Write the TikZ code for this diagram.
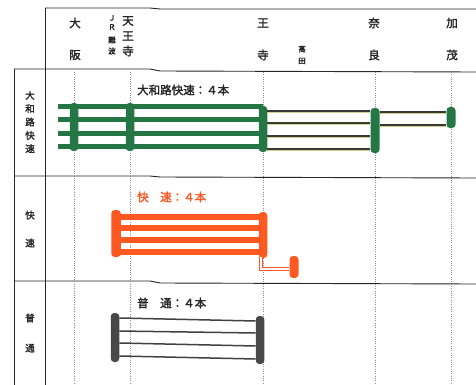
\documentclass[tikz,border=0pt]{standalone}
\usepackage{fontspec}
\newfontfamily\jp[AutoFakeBold=2]{Noto Sans CJK JP}
\usetikzlibrary{calc}
\definecolor{jrgreen}{RGB}{36,118,68}
\definecolor{jrorange}{RGB}{255,88,32}
\definecolor{jrgray}{RGB}{72,72,72}
\definecolor{raildark}{RGB}{55,58,50}
\definecolor{railyel}{RGB}{214,208,140}
\begin{document}
\begin{tikzpicture}[x=1pt,y=-1pt,
  gridline/.style={draw=black!85, line width=0.9pt},
  guide/.style={draw=black!45, line width=0.5pt, dash pattern=on 1pt off 1.3pt},
  bar/.style={rectangle, rounded corners=3.5pt, inner sep=0pt, minimum width=8.5pt, fill=#1, draw=none},
  gthick/.style={draw=jrgreen, line width=5pt},
  othick/.style={draw=jrorange, line width=6.2pt},
  rail/.style={draw=raildark, line width=1.3pt},
  railhi/.style={draw=railyel, line width=0.6pt, transform canvas={yshift=-1.0pt}},
  grail/.style={draw=jrgray!90!black, line width=1.5pt},
  hollow/.style={draw=jrorange, double=white, double distance=1.3pt, line width=1.1pt},
  hdr/.style={font=\jp\bfseries\fontsize{11.5}{11.5}\selectfont, inner sep=0pt, text=black!85},
  hdrs/.style={font=\jp\bfseries\fontsize{7.5}{7.5}\selectfont, inner sep=0pt, text=black!85},
  lab/.style={font=\jp\bfseries\fontsize{9.5}{#1}\selectfont, align=center, inner sep=0pt, text=black!85},
  ttl/.style={font=\jp\bfseries\fontsize{11.5}{12}\selectfont, anchor=west, inner sep=0pt, text=#1}
]
\useasboundingbox (0,0) rectangle (476,385);
\fill[white] (0,0) rectangle (476,385);

% table frame
\draw[gridline] (45,8) -- (150,8) -- (160,9) -- (476,9);
\draw[gridline] (45,8) -- (45,385);
\draw[gridline] (14,69) -- (14,385);
\draw[gridline] (14,69) -- (150,69) -- (160,71) -- (476,72);
\draw[gridline] (14,176) -- (150,176) -- (160,177) -- (476,178);
\draw[gridline] (14,281) -- (150,281) -- (160,283) -- (476,284);

% station guide lines
\foreach \gx in {74,130,263,375,451}
  \draw[guide] (\gx,72) -- (\gx,385);

% header
\node[hdr] (hA1) at (75,23) {大};
\node[hdr] (hA2) at (75,55) {阪};
\node[hdrs] (hB1) at (112,18) {Ｊ};
\node[hdrs] (hB2) at (112,27) {Ｒ};
\node[hdrs] (hB3) at (112,40) {難};
\node[hdrs] (hB4) at (112,51) {波};
\node[hdr] (hC1) at (128,21) {天};
\node[hdr] (hC2) at (128,36) {王};
\node[hdr] (hC3) at (128,51) {寺};
\node[hdr] (hD1) at (263,23) {王};
\node[hdr] (hD2) at (263,55) {寺};
\node[hdrs] (hE1) at (302,49) {高};
\node[hdrs] (hE2) at (302,61) {田};
\node[hdr] (hF1) at (374,23) {奈};
\node[hdr] (hF2) at (374,55) {良};
\node[hdr] (hG1) at (452,23) {加};
\node[hdr] (hG2) at (452,55) {茂};

% row labels
\node[lab=13.3] (L1) at (30,122) {大\\和\\路\\快\\速};
\node[lab=28] (L2) at (30,229) {快\\速};
\node[lab=30] (L3) at (30,333) {普\\通};

% titles
\node[ttl=black!85] (T1) at (137,90) {大和路快速：４本};
\node[ttl=jrorange] (T2) at (137,197) {快　速：４本};
\node[ttl=black!85] (T3) at (137,303) {普　通：４本};

% ---- row 1 : Yamatoji rapid (green)
\node[bar=jrgreen, minimum height=48pt] (g1) at (74,127) {};
\node[bar=jrgreen, minimum height=48pt] (g2) at (130,127) {};
\node[bar=jrgreen, minimum height=46pt] (g3) at (263,129) {};
\node[bar=jrgreen, minimum height=45pt, minimum width=9pt] (g4) at (375,130.5) {};
\node[bar=jrgreen, minimum height=21pt, minimum width=9pt] (g5) at (451,117.5) {};
\coordinate (gs) at (58,127);
\foreach \yy in {107,120,133,146}
  \draw[gthick] (gs |- 0,\yy) -- (g3.center |- 0,\yy);
\foreach \yy in {111,123,136,149}{
  \draw[railhi] (g3.east |- 0,\yy) -- (g4.west |- 0,\yy);
  \draw[rail] (g3.east |- 0,\yy) -- (g4.west |- 0,\yy);}
\foreach \yy in {112,125}{
  \draw[railhi] (g4.east |- 0,\yy) -- (g5.west |- 0,\yy);
  \draw[rail] (g4.east |- 0,\yy) -- (g5.west |- 0,\yy);}

% ---- row 2 : rapid (orange)
\node[bar=jrorange, minimum height=47pt, minimum width=9.5pt] (o1) at (116,233.5) {};
\node[bar=jrorange, minimum height=46pt] (o2) at (263,235) {};
\node[bar=jrorange, minimum height=22pt, minimum width=9pt] (o3) at (294,267) {};
\foreach \yy in {216.7,228.3,239.9,251.7}
  \draw[othick] (o1.center |- 0,\yy) -- (o2.center |- 0,\yy);
\draw[hollow] ($(o2.south)+(-2,-1)$) |- (o3.west |- 0,269);

% ---- row 3 : local (gray)
\node[bar=jrgray, minimum height=49pt] (k1) at (115,337.5) {};
\node[bar=jrgray, minimum height=48pt] (k2) at (260,340) {};
\draw[grail] (k1.east |- 0,318) -- (k2.west |- 0,321);
\draw[grail] (k1.east |- 0,331) -- (k2.west |- 0,333);
\draw[grail] (k1.east |- 0,343) -- (k2.west |- 0,346);
\draw[grail] (k1.east |- 0,356) -- (k2.west |- 0,359);
\end{tikzpicture}
\end{document}
